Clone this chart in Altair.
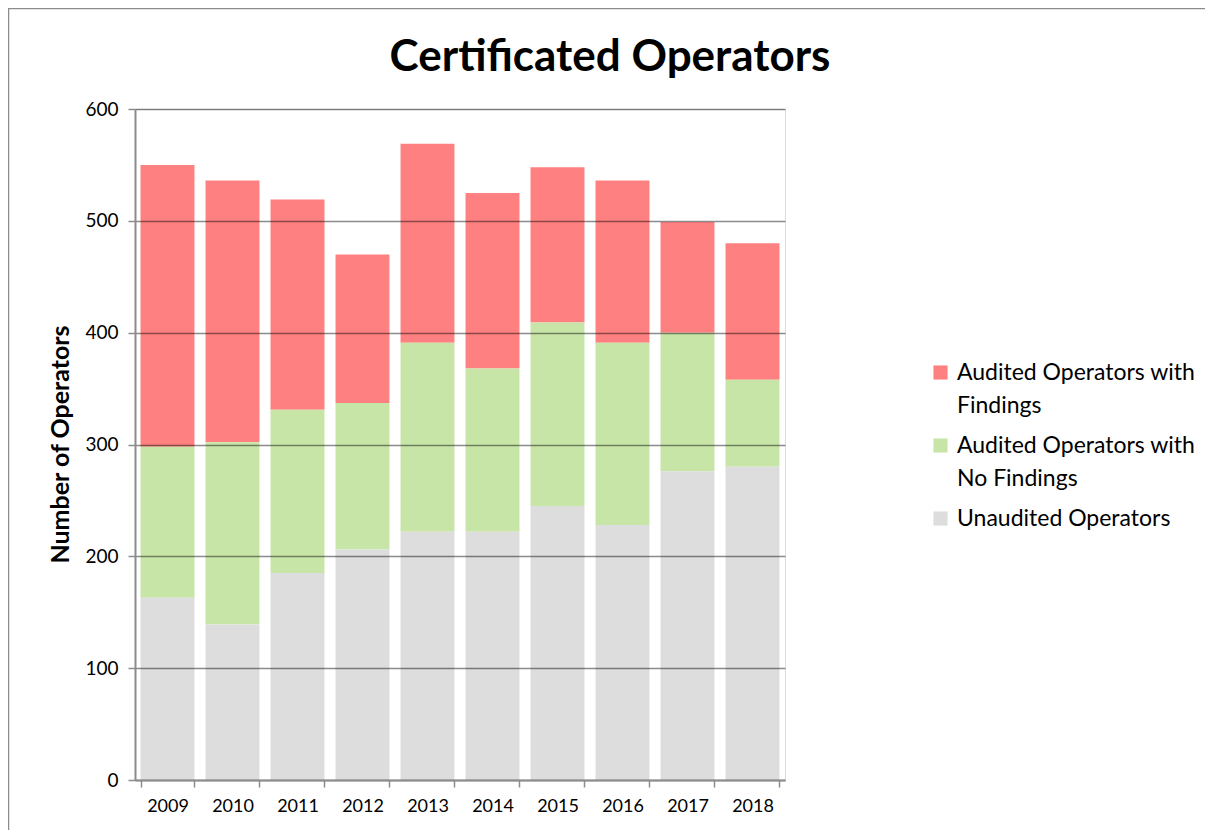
import altair as alt
import pandas as pd

years = ["2009", "2010", "2011", "2012", "2013", "2014", "2015", "2016", "2017", "2018"]
unaudited = [163, 139, 185, 206, 222, 222, 245, 228, 276, 280]
no_findings = [135, 163, 146, 131, 169, 146, 164, 163, 124, 78]
with_findings = [252, 234, 188, 133, 178, 157, 139, 145, 99, 122]

series = ["Audited Operators with Findings", "Audited Operators with No Findings", "Unaudited Operators"]
colors = ["#FF8080", "#C8E5A8", "#DDDDDD"]
stack_rank = {"Unaudited Operators": 1, "Audited Operators with No Findings": 2, "Audited Operators with Findings": 3}

rows = []
for i, y in enumerate(years):
    for name, vals in zip(series, [with_findings, no_findings, unaudited]):
        rows.append({"Year": y, "Series": name, "Value": vals[i], "rank": stack_rank[name]})
df = pd.DataFrame(rows)

FONT = "Lato"

bars = alt.Chart(df).mark_bar().encode(
    x=alt.X("Year:N", sort=years,
            scale=alt.Scale(paddingInner=0.17, paddingOuter=0.085),
            axis=alt.Axis(title=None, labelAngle=0, tickBand="extent", ticks=True, tickSize=7,
                          tickColor="#8c8c8c", tickWidth=1.5, domainColor="#8c8c8c", domainWidth=2,
                          labelFont=FONT, labelFontSize=18, labelColor="#000000", labelPadding=10,
                          grid=False, zindex=1)),
    y=alt.Y("Value:Q", stack="zero",
            scale=alt.Scale(domain=[0, 600], nice=False),
            axis=alt.Axis(values=[0, 100, 200, 300, 400, 500, 600], title="Number of Operators",
                          titleFont=FONT, titleFontSize=25, titleFontWeight="bold", titleColor="#000000",
                          titleX=-75, titleY=335, titleAngle=-90, titleAlign="center", titleBaseline="middle",
                          labelFont=FONT, labelFontSize=19, labelColor="#000000", labelPadding=10,
                          tickSize=7, tickColor="#8c8c8c", tickWidth=1.5,
                          domainColor="#8c8c8c", domainWidth=2,
                          grid=True, gridColor="#000000", gridOpacity=0.45, gridWidth=1.5, zindex=1)),
    color=alt.Color("Series:N", sort=series,
                    scale=alt.Scale(domain=series, range=colors),
                    legend=alt.Legend(title=None, orient="none", legendX=794, legendY=252,
                                      symbolType="square", symbolSize=200, symbolStrokeWidth=0,
                                      labelFont=FONT, labelFontSize=23, labelColor="#000000",
                                      labelLimit=400, labelOffset=5, rowPadding=16,
                                      labelBaseline="middle",
                                      labelExpr="datum.label == 'Audited Operators with Findings' ? ['Audited Operators with', 'Findings'] : datum.label == 'Audited Operators with No Findings' ? ['Audited Operators with', 'No Findings'] : datum.label")),
    order=alt.Order("rank:Q", sort="ascending"),
)

border_df = pd.DataFrame({"k": [0]})
border = alt.Chart(border_df).mark_rect(fill=None, stroke="#8c8c8c", strokeWidth=1.5, clip=False).encode(
    x=alt.value(-126.5), x2=alt.value(1200), y=alt.value(-100.5), y2=alt.value(900)
)

chart = alt.layer(border, bars).properties(
    width=650, height=671,
    autosize=alt.AutoSizeParams(type="none"),
    padding={"left": 127, "top": 101, "right": 420, "bottom": 50},
    title=alt.TitleParams("Certificated Operators", font=FONT, fontSize=44, fontWeight="bold",
                          color="#000000", anchor="middle", dx=150, offset=0, dy=72),
).configure_view(stroke=None).configure(background="white", style={"guide-label": {"lineHeight": 33}})

chart.save("out.html", embed_options={"renderer": "svg", "actions": False})
